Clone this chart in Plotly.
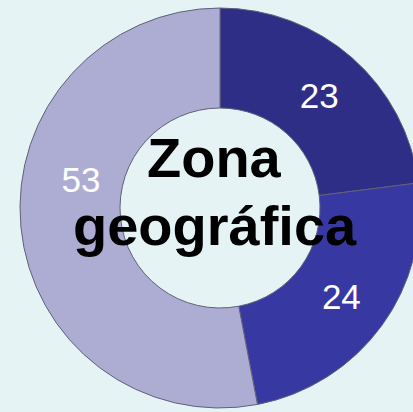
import plotly.graph_objects as go

labels = ["A", "B", "C"]
values = [23, 24, 53]
colors = ["#2f2e87", "#3838a2", "#adadd3"]
title_lines = ["Zona", "geográfica"]

W, H = 440, 420
cx, cy, R = 220, 208, 200

fig = go.Figure(go.Pie(
    labels=labels, values=values, hole=0.5, sort=False, direction="clockwise",
    rotation=0,
    marker=dict(colors=colors, line=dict(color="#60607a", width=1)),
    textinfo="value", textposition="inside", insidetextorientation="horizontal",
    texttemplate=["%{value}", "%{value}",
                  "<span style='font-size:35px'>%{value}</span><br> <br> "],
    textfont=dict(family="Liberation Sans, Arial", size=[35, 35, 23], color="white"),
    domain=dict(x=[(cx - R) / W, (cx + R) / W], y=[1 - (cy + R) / H, 1 - (cy - R) / H]),
    showlegend=False, hoverinfo="skip",
))

fig.add_annotation(x=214 / W, y=1 - 191 / H, xref="paper", yref="paper", text="<b>%s</b>" % title_lines[0],
                   showarrow=False, yanchor="bottom", xanchor="center",
                   font=dict(family="Liberation Sans, Arial", size=56, color="black"))
fig.add_annotation(x=215 / W, y=1 - 259 / H, xref="paper", yref="paper", text="<b>%s</b>" % title_lines[1],
                   showarrow=False, yanchor="bottom", xanchor="center",
                   font=dict(family="Liberation Sans, Arial", size=56, color="black"))

fig.update_layout(width=W, height=H, margin=dict(l=0, r=0, t=0, b=0),
                  paper_bgcolor="#e6f3f5", plot_bgcolor="#e6f3f5")
fig.write_html("out.html", config={"displayModeBar": False},
               post_script="document.body.style.margin='0';document.body.style.background='#e6f3f5';document.body.style.overflow='hidden';")
